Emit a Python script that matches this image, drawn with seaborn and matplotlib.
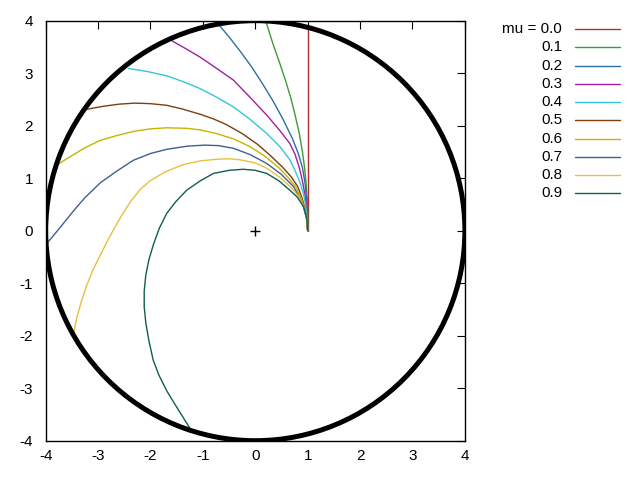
import numpy as np
import pandas as pd
import matplotlib
matplotlib.use('Agg')
import matplotlib.pyplot as plt
import seaborn as sns
from matplotlib.lines import Line2D
from matplotlib.patches import Circle

# ---- data ----
mu_labels = ['0.0', '0.1', '0.2', '0.3', '0.4', '0.5', '0.6', '0.7', '0.8', '0.9']

x_00 = [1.00, 1.00]
y_00 = [0.00, 3.87]
x_01 = [1.00, 0.998, 0.99, 0.97, 0.94, 0.90, 0.84, 0.76, 0.68, 0.58, 0.47, 0.34, 0.20]
y_01 = [0.00, 0.30, 0.60, 0.90, 1.20, 1.50, 1.85, 2.20, 2.52, 2.85, 3.18, 3.55, 3.99]
x_02 = [1.00, 0.995, 0.98, 0.95, 0.90, 0.82, 0.71, 0.53, 0.35, 0.15, -0.07, -0.29, -0.50, -0.71]
y_02 = [0.00, 0.30, 0.60, 0.90, 1.20, 1.47, 1.75, 2.12, 2.45, 2.78, 3.12, 3.42, 3.69, 3.94]
x_03 = [1.00, 0.99, 0.96, 0.91, 0.84, 0.76, 0.66, 0.45, 0.22, -0.10, -0.42, -0.75, -1.06, -1.35, -1.63]
y_03 = [0.00, 0.30, 0.60, 0.90, 1.20, 1.45, 1.66, 1.93, 2.20, 2.54, 2.87, 3.10, 3.31, 3.48, 3.64]
x_04 = [1.00, 0.99, 0.96, 0.92, 0.86, 0.77, 0.66, 0.47, 0.22, -0.10, -0.42, -0.75, -1.06, -1.38, -1.69, -2.05, -2.42]
y_04 = [0.00, 0.25, 0.50, 0.70, 0.90, 1.12, 1.35, 1.60, 1.85, 2.12, 2.36, 2.55, 2.71, 2.84, 2.95, 3.03, 3.09]
x_05 = [1.00, 0.98, 0.94, 0.89, 0.81, 0.69, 0.53, 0.30, 0.05, -0.25, -0.55, -0.80, -1.06, -1.40, -1.70, -2.01, -2.30, -2.60, -2.90, -3.23]
y_05 = [0.00, 0.22, 0.45, 0.63, 0.84, 1.02, 1.20, 1.42, 1.64, 1.85, 2.02, 2.13, 2.22, 2.32, 2.39, 2.42, 2.43, 2.41, 2.37, 2.31]
x_06 = [1.00, 0.98, 0.93, 0.87, 0.77, 0.62, 0.45, 0.18, -0.10, -0.42, -0.74, -1.05, -1.31, -1.69, -2.00, -2.33, -2.65, -2.96, -3.25, -3.50, -3.76]
y_06 = [0.00, 0.22, 0.45, 0.63, 0.84, 1.02, 1.20, 1.42, 1.60, 1.75, 1.85, 1.92, 1.95, 1.96, 1.94, 1.89, 1.81, 1.72, 1.58, 1.43, 1.27]
x_07 = [1.00, 0.98, 0.92, 0.85, 0.73, 0.50, 0.22, -0.10, -0.42, -0.70, -0.96, -1.30, -1.69, -2.00, -2.33, -2.65, -2.96, -3.25, -3.45, -3.62, -3.80, -3.95]
y_07 = [0.00, 0.22, 0.45, 0.62, 0.84, 1.07, 1.28, 1.45, 1.57, 1.62, 1.63, 1.61, 1.55, 1.47, 1.34, 1.13, 0.91, 0.63, 0.40, 0.19, -0.03, -0.21]
x_08 = [1.00, 0.98, 0.93, 0.83, 0.67, 0.45, 0.22, 0.00, -0.29, -0.50, -0.74, -1.05, -1.37, -1.70, -2.01, -2.20, -2.37, -2.52, -2.66, -2.81, -2.95, -3.10, -3.22, -3.32, -3.41, -3.47]
y_08 = [0.00, 0.22, 0.45, 0.65, 0.84, 1.03, 1.19, 1.29, 1.35, 1.37, 1.36, 1.33, 1.26, 1.13, 0.95, 0.78, 0.57, 0.34, 0.10, -0.17, -0.45, -0.75, -1.05, -1.35, -1.67, -1.99]
x_09 = [1.00, 0.98, 0.92, 0.80, 0.66, 0.45, 0.22, 0.00, -0.23, -0.50, -0.80, -1.05, -1.31, -1.52, -1.69, -1.83, -1.94, -2.03, -2.09, -2.12, -2.12, -2.09, -2.03, -1.95, -1.84, -1.69, -1.55, -1.40, -1.25]
y_09 = [0.00, 0.25, 0.46, 0.64, 0.77, 0.95, 1.09, 1.15, 1.17, 1.15, 1.09, 0.95, 0.77, 0.55, 0.33, 0.05, -0.25, -0.55, -0.85, -1.15, -1.45, -1.75, -2.10, -2.46, -2.75, -3.05, -3.28, -3.52, -3.76]

xs = [x_00, x_01, x_02, x_03, x_04, x_05, x_06, x_07, x_08, x_09]
ys = [y_00, y_01, y_02, y_03, y_04, y_05, y_06, y_07, y_08, y_09]

circle_radius = 4.0
tick_values = [-4, -3, -2, -1, 0, 1, 2, 3, 4]

colors = ['#b03030', '#3c9c3c', '#2f6fa0', '#a020a0', '#30c8d8',
          '#7b3f10', '#c8b400', '#3f6090', '#e8c040', '#0f5f4f']

# ---- build long-form table ----
frames = []
for lab, xv, yv in zip(mu_labels, xs, ys):
    frames.append(pd.DataFrame({'x': xv, 'y': yv, 'mu': lab}))
df = pd.concat(frames, ignore_index=True)

sns.set_style('white')
plt.rcParams['font.family'] = ['Liberation Sans', 'DejaVu Sans']
plt.rcParams['axes.unicode_minus'] = False

fig = plt.figure(figsize=(6.4, 4.8), dpi=100)
ax = fig.add_axes([0.0714, 0.0819, 0.655, 0.875])

sns.lineplot(data=df, x='x', y='y', hue='mu', palette=dict(zip(mu_labels, colors)),
             sort=False, estimator=None, legend=False, lw=1.0, ax=ax)

ax.add_patch(Circle((0, 0), circle_radius, fill=False, lw=3.6, edgecolor='black', zorder=3))
ax.plot([0], [0], marker='+', color='black', ms=7, mew=1.0, ls='none')

ax.set_xlim(-4, 4)
ax.set_ylim(-4, 4)
ax.set_xticks(tick_values)
ax.set_yticks(tick_values)
ax.set_xlabel('')
ax.set_ylabel('')
ax.tick_params(direction='in', length=6, width=0.8, top=True, right=True,
               labelsize=11, colors='black')
ax.tick_params(axis='x', pad=6)
ax.tick_params(axis='y', pad=9)
for s in ax.spines.values():
    s.set_color('black')
    s.set_linewidth(1.0)

# ---- gnuplot style key (outside, right) ----
text_x = 562 / 640
line_x0, line_x1 = 575 / 640, 620 / 640
row0 = 1 - 29 / 480
dy = 18.26 / 480
for i, (lab, c) in enumerate(zip(mu_labels, colors)):
    yy = row0 - i * dy
    txt = ('mu = ' + lab) if i == 0 else lab
    fig.text(text_x, yy, txt, ha='right', va='center', fontsize=11, color='black')
    fig.add_artist(Line2D([line_x0, line_x1], [yy, yy], color=c, lw=1.0))

fig.savefig('out.png', dpi=100)
